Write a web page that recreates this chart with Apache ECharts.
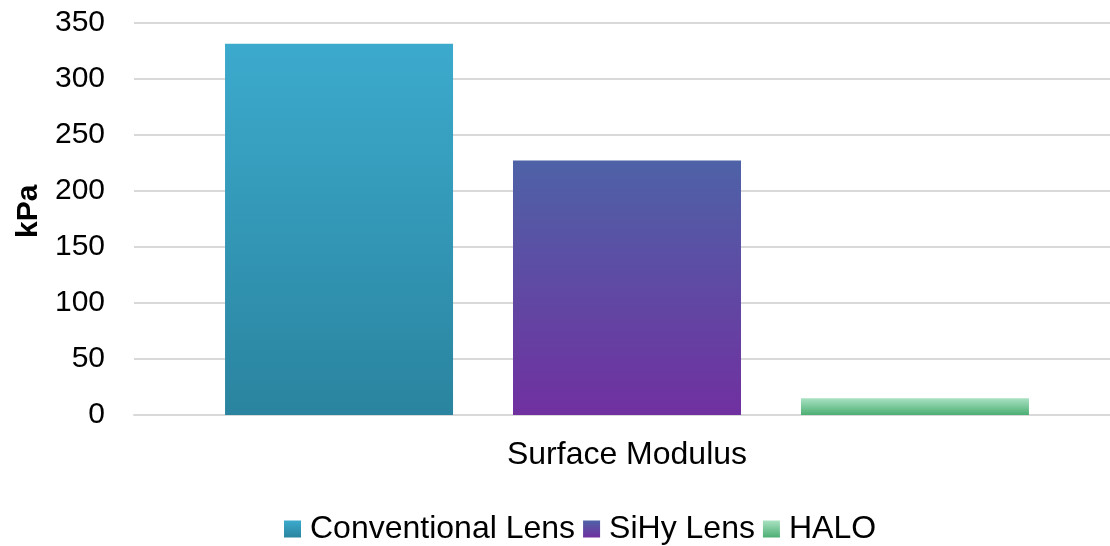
<!DOCTYPE html>
<html><head><meta charset="utf-8">
<script src="https://cdn.jsdelivr.net/npm/echarts@6/dist/echarts.min.js"></script>
<style>html,body{margin:0;padding:0;background:#fff;}#c{width:1110px;height:546px;}</style>
</head><body><div id="c"></div>
<script>
const categories = ['Surface Modulus'];
const seriesNames = ['Conventional Lens', 'SiHy Lens', 'HALO'];
const conventionalValues = [331];
const sihyValues = [227];
const haloValues = [15];
const yTicks = [0, 50, 100, 150, 200, 250, 300, 350];

function grad(top, bottom) {
  return new echarts.graphic.LinearGradient(0, 0, 0, 1, [
    {offset: 0, color: top}, {offset: 1, color: bottom}
  ]);
}
const colors = [
  grad('#3caacd', '#2a849f'),
  grad('#4e62a7', '#7030a0'),
  grad('#a9e2c2', '#4cae73')
];
const font = 'Liberation Sans, Arial, sans-serif';
const chart = echarts.init(document.getElementById('c'));
const vals = [conventionalValues, sihyValues, haloValues];
chart.setOption({
  animation: false,
  grid: {left: 134, width: 986, top: 22.5, bottom: 131, outerBoundsMode: 'none', containLabel: false},
  legend: {
    bottom: 1, left: 284, padding: 0,
    icon: 'rect',
    itemWidth: 17, itemHeight: 17, itemGap: 8,
    textStyle: {fontFamily: font, fontSize: 32, color: '#000', padding: [0, 0, 0, 4]},
    data: seriesNames
  },
  xAxis: {
    type: 'category', data: categories,
    axisLine: {lineStyle: {color: '#d9d9d9', width: 2}},
    axisTick: {show: false},
    axisLabel: {fontFamily: font, fontSize: 32, color: '#000', margin: 24}
  },
  yAxis: {
    type: 'value', min: yTicks[0], max: yTicks[yTicks.length - 1], interval: 50,
    name: 'kPa', nameLocation: 'middle', nameGap: 88, nameRotate: 90,
    nameTextStyle: {fontFamily: font, fontSize: 30, fontWeight: 'bold', color: '#000', padding: [0, 0, 0, 15]},
    axisLine: {show: false}, axisTick: {show: false},
    axisLabel: {fontFamily: font, fontSize: 30, color: '#000', margin: 29},
    splitLine: {lineStyle: {color: '#d9d9d9', width: 2}}
  },
  series: seriesNames.map((n, i) => ({
    name: n, type: 'bar', data: vals[i],
    barWidth: 228, barGap: '26.3%',
    itemStyle: {color: colors[i]}
  }))
});
</script></body></html>
